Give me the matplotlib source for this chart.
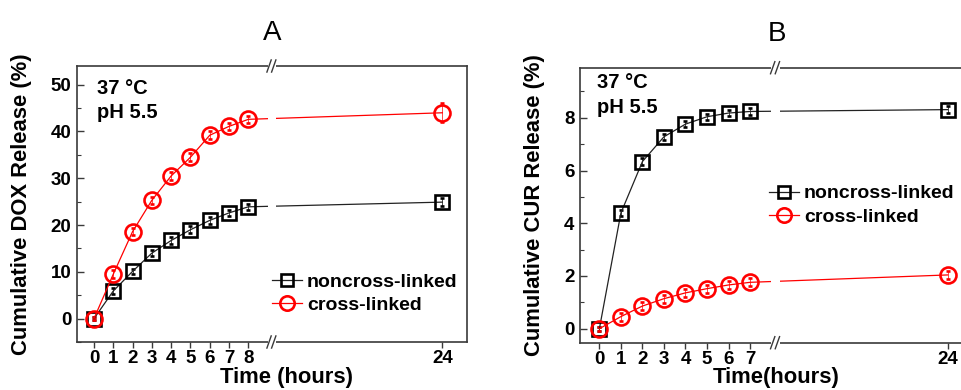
import numpy as np
import matplotlib
matplotlib.use("Agg")
import matplotlib.pyplot as plt
from matplotlib.lines import Line2D
from matplotlib.ticker import MultipleLocator, FixedLocator

plt.rcParams['font.family'] = ['Liberation Sans', 'DejaVu Sans']

# ---------------- data ----------------
time_A = [0, 1, 2, 3, 4, 5, 6, 7, 8, 24]
dox_noncross = [0, 5.9, 10.1, 14.0, 16.7, 19.0, 21.0, 22.6, 23.9, 24.9]
dox_noncross_err = [0.4, 0.6, 0.6, 0.6, 0.7, 0.7, 0.7, 0.7, 0.7, 0.8]
dox_cross = [0, 9.5, 18.6, 25.3, 30.5, 34.5, 39.2, 41.1, 42.6, 44.0]
dox_cross_err = [0.4, 0.8, 0.8, 0.8, 0.8, 0.8, 0.8, 0.8, 0.8, 2.0]

time_B = [0, 1, 2, 3, 4, 5, 6, 7, 24]
cur_noncross = [0, 4.39, 6.34, 7.28, 7.76, 8.04, 8.18, 8.24, 8.31]
cur_noncross_err = [0.08, 0.1, 0.12, 0.12, 0.12, 0.12, 0.12, 0.12, 0.12]
cur_cross = [0, 0.46, 0.86, 1.14, 1.36, 1.52, 1.66, 1.76, 2.04]
cur_cross_err = [0.08, 0.15, 0.15, 0.15, 0.15, 0.15, 0.15, 0.15, 0.15]

xticks_A = [0, 1, 2, 3, 4, 5, 6, 7, 8, 24]
xticks_B = [0, 1, 2, 3, 4, 5, 6, 7, 24]
labels = ['noncross-linked', 'cross-linked']

BLACK = '#000000'
RED = '#ff0000'
SPINE = '#3a3a3a'

fig = plt.figure(figsize=(9.62, 3.9), dpi=100)


def make_scale(brk, k):
    def fwd(x):
        x = np.asarray(x, dtype=float)
        return np.where(x <= brk, x, brk + (x - brk) * k)

    def inv(y):
        y = np.asarray(y, dtype=float)
        return np.where(y <= brk, y, brk + (y - brk) / k)
    return fwd, inv


def panel(rect, t, y1, e1, y2, e2, xticks, brk, k, xlim, ylim, xbreak,
          ymaj, ymin, title, ylabel, xlabel, ylab_x, xlab_x, ann_y, ann_x,
          leg_anchor):
    ax = fig.add_axes(rect)
    fwd, inv = make_scale(brk, k)
    ax.set_xscale('function', functions=(fwd, inv))
    ax.set_xlim(*xlim)
    ax.set_ylim(*ylim)

    sq = dict(marker='s', ms=9.5, mfc='none', mec=BLACK, mew=1.9)
    ci = dict(marker='o', ms=11.5, mfc='none', mec=RED, mew=1.9)
    ax.errorbar(t, y1, yerr=e1, color='#222222', lw=0.9, ecolor=BLACK,
                elinewidth=0.5, capsize=1.6, capthick=0.5, zorder=3, **sq)
    ax.errorbar(t, y2, yerr=e2, color=RED, lw=0.9, ecolor=RED,
                elinewidth=0.5, capsize=1.6, capthick=0.5, zorder=3, **ci)

    # axis break: white gap band over lines & spines, then // marks
    bx = float(fwd(xbreak))
    x0, x1 = float(fwd(xlim[0])), float(fwd(xlim[1]))
    fx = (bx - x0) / (x1 - x0)
    w = 0.011
    ax.axvspan(inv(bx - 0.2), inv(bx + 0.25), ymin=-0.01, ymax=1.01,
               color='white', zorder=3.5, clip_on=False, lw=0)
    for yy in (0.0, 1.0):
        for dx in (-0.006, 0.006):
            ax.plot([fx + dx - w / 2, fx + dx + w / 2], [yy - 0.022, yy + 0.022],
                    transform=ax.transAxes, color=SPINE, lw=1.0,
                    clip_on=False, zorder=4)

    ax.xaxis.set_major_locator(FixedLocator(xticks))
    ax.set_xticklabels([str(v) for v in xticks])
    ax.yaxis.set_major_locator(MultipleLocator(ymaj))
    ax.yaxis.set_minor_locator(MultipleLocator(ymin))
    ax.tick_params(axis='x', direction='out', length=4, width=1.0,
                   color=SPINE, pad=2, labelsize=13.5)
    ax.tick_params(axis='y', which='major', direction='in', length=5,
                   width=1.0, color=SPINE, pad=4, labelsize=13.5)
    ax.tick_params(axis='y', which='minor', direction='in', length=3,
                   width=0.8, color=SPINE)
    for lab in ax.get_xticklabels() + ax.get_yticklabels():
        lab.set_fontweight('bold')
    for s in ax.spines.values():
        s.set_color(SPINE)
        s.set_linewidth(1.2)

    ax.set_title(title, fontsize=20, pad=19)
    ax.set_ylabel(ylabel, fontsize=15.8, fontweight='bold')
    ax.yaxis.set_label_coords(ylab_x, 0.5)
    ax.set_xlabel(xlabel, fontsize=15.8, fontweight='bold')
    ax.xaxis.set_label_coords(xlab_x, -0.09)

    ax.text(ann_x, ann_y[0], '37 °C', transform=ax.transAxes, fontsize=14.5,
            fontweight='bold', va='center', ha='left')
    ax.text(ann_x, ann_y[1], 'pH 5.5', transform=ax.transAxes, fontsize=14.5,
            fontweight='bold', va='center', ha='left')

    handles = [Line2D([], [], color='#222222', lw=0.9, **sq),
               Line2D([], [], color=RED, lw=0.9, **ci)]
    ax.legend(handles, labels, loc='upper left', bbox_to_anchor=leg_anchor,
              frameon=False, borderpad=0, borderaxespad=0,
              handlelength=1.55, handletextpad=0.25, labelspacing=0.28,
              markerscale=0.9, prop={'size': 14, 'weight': 'bold'})
    return ax


panel([77 / 962, 48 / 390, 390 / 962, 276 / 390], time_A,
      dox_noncross, dox_noncross_err, dox_cross, dox_cross_err,
      xticks_A, 8, 0.628, (-0.88, 26.04), (-5, 54), 9.9,
      10, 5, 'A', 'Cumulative DOX Release (%)', 'Time (hours)',
      -0.115, 0.536, (0.92, 0.83), 0.051, (0.5, 0.25))

panel([580 / 962, 47.3 / 390, 393 / 962, 275 / 390], time_B,
      cur_noncross, cur_noncross_err, cur_cross, cur_cross_err,
      xticks_B, 7, 0.54, (-0.9, 26.18), (-0.53, 9.9), 9.15,
      2, 1, 'B', 'Cumulative CUR Release (%)', 'Time(hours)',
      -0.089, 0.499, (0.948, 0.857), 0.043, (0.481, 0.574))

fig.savefig('out.png', dpi=100)
